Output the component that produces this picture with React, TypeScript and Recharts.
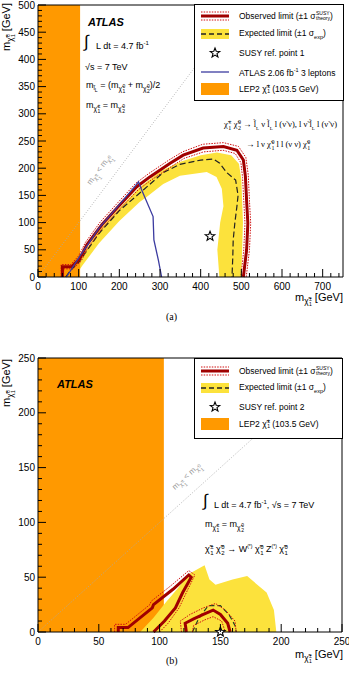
import { ComposedChart, XAxis, YAxis, Line, Area, Scatter } from 'recharts';

// ---------- panel (a) ----------
const aOrange = [[0, 500], [103.5, 500]];
const aObserved = [[60, 0], [60, 19], [83, 19], [103, 34], [120, 59], [157, 96], [197, 129], [243, 166], [275, 184], [325, 209], [357, 224], [406, 237], [456, 240], [489, 233], [505, 215], [510, 185], [513, 140], [516, 99], [513, 50], [505, 0]];
const aTheoryUp = [[57, 0], [57, 23], [81, 23], [100, 39], [117, 64], [153, 101], [193, 134], [240, 172], [272, 190], [322, 215], [355, 230], [405, 244], [456, 247], [493, 240], [511, 220], [517, 188], [520, 140], [523, 99], [520, 50], [512, 0]];
const aTheoryDown = [[63, 0], [63, 15], [85, 15], [106, 29], [123, 54], [160, 91], [200, 124], [246, 160], [278, 178], [328, 203], [359, 218], [407, 230], [455, 233], [485, 227], [499, 210], [503, 183], [506, 140], [509, 99], [506, 50], [499, 0]];
const aExpected = [[68, 0], [80, 12], [100, 27], [150, 80], [200, 122], [259, 160], [308, 192], [349, 207], [400, 215], [431, 217], [447, 209], [464, 192], [486, 178], [492, 150], [489, 129], [484, 99], [480, 68], [479, 37], [477, 0]];
const aExpUp = [[64, 0], [72, 10], [100, 30], [150, 86], [200, 127], [250, 165], [300, 194], [350, 212], [400, 224], [440, 229], [475, 224], [494, 208], [500, 180], [502, 140], [504, 100], [502, 50], [500, 0]];
const aExpDown = [[90, 0], [110, 22], [150, 62], [200, 103], [250, 138], [267, 147], [308, 171], [349, 186], [415, 193], [439, 184], [452, 162], [456, 130], [448, 100], [441, 50], [446, 0]];
const aThreeLep = [[70, 0], [100, 35], [150, 90], [200, 133], [240, 168], [247, 175], [255, 160], [283, 111], [285, 68], [296, 31], [304, 0]];
const aDiagonal = [[0, 0], [500, 500]];
const aRefPoint = [[423, 75]];
const aXLabels = [0, 100, 200, 300, 400, 500, 600, 700];
const aYLabels = [0, 50, 100, 150, 200, 250, 300, 350, 400, 450, 500];

// ---------- panel (b) ----------
const bOrange = [[0, 250], [103.5, 250]];
const bExpBand = [[84, 0], [95, 13], [105, 27], [115, 40], [124, 53], [137, 61], [141, 48], [146, 43], [160, 48], [172, 51], [188, 36], [194, 20], [196, 0]];
const bObsLoop = [[66, 0], [66, 4], [74, 4], [94, 22], [95, 25], [111, 39], [124, 52], [126, 50], [119, 36], [113, 22], [104, 10], [95, 0]];
const bObsDome = [[122, 0], [121, 8], [128, 12], [136, 16], [144, 20], [150, 16], [156, 8], [158, 0]];
const bTheoryLoop = [[63, 0], [63, 7], [72, 7], [92, 25], [93, 28], [109, 42], [124, 56], [129, 52], [122, 36], [116, 22], [107, 8], [100, 0]];
const bTheoryDomeUp = [[118, 0], [117, 10], [125, 16], [136, 22], [146, 26], [154, 20], [162, 10], [163, 0]];
const bTheoryDomeDown = [[127, 0], [128, 6], [137, 11], [144, 14], [151, 10], [154, 0]];
const bExpected = [[127, 0], [132, 12], [140, 24], [150, 24], [157, 16], [162, 6], [163, 0]];
const bDiagonal = [[0, 0], [250, 250]];
const bRefPoint = [[150, 0]];
const bXLabels = [0, 50, 100, 150, 200, 250];
const bYLabels = [0, 50, 100, 150, 200, 250];

const FONT = '"Liberation Sans", Arial, sans-serif';
const SERIF = '"Liberation Serif", "Times New Roman", serif';
const ORANGE = '#FF9900';
const YELLOW = '#FCE23C';
const DARKRED = '#A00000';
const RED = '#D01010';
const BLUE = '#3B3BA0';
const CHI = '\u03C7\u0303';

const pts = (a: number[][]) => a.map(([x, y]) => ({ x, y }));
const steps = (from: number, to: number, step: number) => {
  const out: number[] = [];
  for (let v = from; v <= to; v += step) out.push(v);
  return out;
};

type Side = 'bottom' | 'top' | 'left' | 'right';

function tickFor(side: Side, labels: number[]) {
  return (p: any) => {
    const { x, y, payload } = p;
    const v = payload.value as number;
    const major = labels.includes(v);
    const len = major ? 8 : 4;
    const s = { stroke: '#000', strokeWidth: 1 };
    if (side === 'bottom')
      return (
        <g>
          <line x1={x} x2={x} y1={y} y2={y - len} {...s} />
          {major && (
            <text x={x} y={y + 13} textAnchor="middle" fontSize={10} fontFamily={FONT} fill="#000">
              {v}
            </text>
          )}
        </g>
      );
    if (side === 'top') return <line x1={x} x2={x} y1={y} y2={y + len} {...s} />;
    if (side === 'right') return <line x1={x} x2={x - len} y1={y} y2={y} {...s} />;
    return (
      <g>
        <line x1={x} x2={x + len} y1={y} y2={y} {...s} />
        {major && (
          <text x={x - 3} y={y + 3.5} textAnchor="end" fontSize={10} fontFamily={FONT} fill="#000">
            {v}
          </text>
        )}
      </g>
    );
  };
}

function StarShape(props: any) {
  const { cx, cy } = props;
  const d =
    Array.from({ length: 10 }, (_, i) => {
      const a = -Math.PI / 2 + (i * Math.PI) / 5;
      const r = i % 2 === 0 ? 5 : 2.1;
      return `${i === 0 ? 'M' : 'L'}${cx + r * Math.cos(a)},${cy + r * Math.sin(a)}`;
    }).join('') + 'Z';
  return <path d={d} fill="#fff" stroke="#000" strokeWidth={1.1} />;
}

function SupSub({ sup, sub, size = 6 }: { sup?: string; sub?: string; size?: number }) {
  return (
    <span
      style={{
        display: 'inline-flex',
        flexDirection: 'column',
        verticalAlign: 'middle',
        fontSize: size,
        lineHeight: 1,
        marginLeft: 0.5,
      }}
    >
      <span>{sup ?? '\u00a0'}</span>
      <span>{sub ?? '\u00a0'}</span>
    </span>
  );
}

function Chi({ sup, sub, size = 6 }: { sup: string; sub: string; size?: number }) {
  return (
    <>
      {CHI}
      <SupSub sup={sup} sub={sub} size={size} />
    </>
  );
}

function MChi({ sup, sub }: { sup: string; sub: string }) {
  return (
    <>
      m
      <span style={{ fontSize: '0.75em', verticalAlign: '-0.4em' }}>
        <Chi sup={sup} sub={sub} size={5} />
      </span>
    </>
  );
}

function Text({ left, top, size = 9, children, style }: any) {
  return (
    <div
      style={{
        position: 'absolute',
        left,
        top,
        fontSize: size,
        fontFamily: FONT,
        whiteSpace: 'nowrap',
        lineHeight: 1,
        color: '#000',
        ...style,
      }}
    >
      {children}
    </div>
  );
}

function Swatch({ kind }: { kind: string }) {
  return (
    <svg width={30} height={14} style={{ display: 'block' }}>
      {kind === 'obs' && (
        <>
          <line x1={1} x2={29} y1={3} y2={3} stroke={RED} strokeDasharray="1.5 1.2" />
          <line x1={1} x2={29} y1={7} y2={7} stroke={DARKRED} strokeWidth={3} />
          <line x1={1} x2={29} y1={11} y2={11} stroke={RED} strokeDasharray="1.5 1.2" />
        </>
      )}
      {kind === 'exp' && (
        <>
          <rect x={1} y={2} width={28} height={10} fill={YELLOW} />
          <line x1={1} x2={29} y1={7} y2={7} stroke="#222" strokeWidth={1.3} strokeDasharray="5 3" />
        </>
      )}
      {kind === 'star' && <StarShape cx={15} cy={7} />}
      {kind === 'blue' && <line x1={1} x2={29} y1={7} y2={7} stroke={BLUE} strokeWidth={1.3} />}
      {kind === 'lep' && <rect x={1} y={1} width={28} height={12} fill={ORANGE} />}
    </svg>
  );
}

function LegendBox({ left, top, width, height, rows }: any) {
  return (
    <div
      style={{
        position: 'absolute',
        left,
        top,
        width,
        height,
        boxSizing: 'border-box',
        border: '1px solid #000',
        background: '#fff',
        fontFamily: FONT,
        fontSize: 8.5,
      }}
    >
      {rows.map((r: any, i: number) => (
        <div
          key={i}
          style={{ position: 'absolute', left: 5, top: r.y - top - 7, display: 'flex', alignItems: 'center', whiteSpace: 'nowrap' }}
        >
          <Swatch kind={r.kind} />
          <span style={{ marginLeft: 9 }}>{r.label}</span>
        </div>
      ))}
    </div>
  );
}

const sigmaTheory = (
  <>
    Observed limit (±1 σ<SupSub sup="SUSY" sub="theory" size={5} />)
  </>
);
const sigmaExp = (
  <>
    Expected limit (±1 σ<sub style={{ fontSize: 5.5 }}>exp</sub>)
  </>
);
const lepLabel = (
  <>
    LEP2 <Chi sup="±" sub="1" size={5} /> (103.5 GeV)
  </>
);

function Frame({ xDomain, yDomain, xTicks, yTicks, xLabels, yLabels }: any) {
  const common = { type: 'number' as const, interval: 0 as const, tickSize: 0, tickMargin: 0, tickLine: false, axisLine: { stroke: '#000' } };
  return [
    <XAxis key="xb" dataKey="x" domain={xDomain} ticks={xTicks} height={1} tick={tickFor('bottom', xLabels)} {...common} />,
    <XAxis key="xt" xAxisId="t" orientation="top" dataKey="x" domain={xDomain} ticks={xTicks} height={1} tick={tickFor('top', xLabels)} {...common} />,
    <YAxis key="yl" domain={yDomain} ticks={yTicks} width={1} tick={tickFor('left', yLabels)} {...common} />,
    <YAxis key="yr" yAxisId="r" orientation="right" domain={yDomain} ticks={yTicks} width={1} tick={tickFor('right', yLabels)} {...common} />,
  ];
}

const dotted = { stroke: RED, strokeWidth: 1, strokeDasharray: '1.5 1.2', dot: false, isAnimationActive: false, type: 'linear' as const };

function PanelA() {
  return (
    <div style={{ position: 'absolute', left: 0, top: 0, width: 349, height: 310 }}>
      <ComposedChart width={349} height={310} margin={{ top: 4, right: 5, bottom: 32, left: 37 }}>
        {Frame({ xDomain: [0, 750], yDomain: [0, 500], xTicks: steps(0, 740, 20), yTicks: steps(0, 500, 10), xLabels: aXLabels, yLabels: aYLabels })}
        <Area data={pts(aExpUp)} dataKey="y" type="linear" baseValue={0} fill={YELLOW} fillOpacity={1} stroke="none" isAnimationActive={false} />
        <Area data={pts(aExpDown)} dataKey="y" type="linear" baseValue={0} fill="#fff" fillOpacity={1} stroke="none" isAnimationActive={false} />
        <Area data={pts(aOrange)} dataKey="y" type="linear" baseValue={0} fill={ORANGE} fillOpacity={1} stroke="none" isAnimationActive={false} />
        <Line data={pts(aDiagonal)} dataKey="y" type="linear" stroke="#aaa" strokeWidth={0.8} strokeDasharray="1 1.5" dot={false} isAnimationActive={false} />
        <Line data={pts(aExpected)} dataKey="y" type="linear" stroke="#222" strokeWidth={1.2} strokeDasharray="6 3" dot={false} isAnimationActive={false} />
        <Line data={pts(aTheoryUp)} dataKey="y" {...dotted} />
        <Line data={pts(aTheoryDown)} dataKey="y" {...dotted} />
        <Line data={pts(aObserved)} dataKey="y" type="linear" stroke={DARKRED} strokeWidth={3} dot={false} isAnimationActive={false} />
        <Line data={pts(aThreeLep)} dataKey="y" type="linear" stroke={BLUE} strokeWidth={1.3} dot={false} isAnimationActive={false} />
        <Scatter data={pts(aRefPoint)} dataKey="y" shape={<StarShape />} isAnimationActive={false} />
      </ComposedChart>
    </div>
  );
}

function PanelB() {
  return (
    <div style={{ position: 'absolute', left: 0, top: 330, width: 349, height: 345 }}>
      <ComposedChart width={349} height={345} margin={{ top: 27, right: 6, bottom: 42, left: 37 }}>
        {Frame({ xDomain: [0, 250], yDomain: [0, 250], xTicks: steps(0, 250, 10), yTicks: steps(0, 250, 10), xLabels: bXLabels, yLabels: bYLabels })}
        <Area data={pts(bOrange)} dataKey="y" type="linear" baseValue={0} fill={ORANGE} fillOpacity={1} stroke="none" isAnimationActive={false} />
        <Area data={pts(bExpBand)} dataKey="y" type="linear" baseValue={0} fill={YELLOW} fillOpacity={1} stroke="none" isAnimationActive={false} />
        <Line data={pts(bDiagonal)} dataKey="y" type="linear" stroke="#aaa" strokeWidth={0.8} strokeDasharray="1 1.5" dot={false} isAnimationActive={false} />
        <Line data={pts(bExpected)} dataKey="y" type="linear" stroke="#224422" strokeWidth={1.2} strokeDasharray="5 3" dot={false} isAnimationActive={false} />
        <Line data={pts(bTheoryLoop)} dataKey="y" {...dotted} />
        <Line data={pts(bTheoryDomeUp)} dataKey="y" {...dotted} />
        <Line data={pts(bTheoryDomeDown)} dataKey="y" {...dotted} />
        <Line data={pts(bObsLoop)} dataKey="y" type="linear" stroke={DARKRED} strokeWidth={3} dot={false} isAnimationActive={false} />
        <Line data={pts(bObsDome)} dataKey="y" type="linear" stroke={DARKRED} strokeWidth={3} dot={false} isAnimationActive={false} />
        <Scatter data={pts(bRefPoint)} dataKey="y" shape={<StarShape />} isAnimationActive={false} />
      </ComposedChart>
    </div>
  );
}

function YTitle({ top }: { top: number }) {
  return (
    <div
      style={{
        position: 'absolute',
        left: 9,
        top,
        transform: 'translate(-50%, -50%) rotate(-90deg)',
        fontFamily: FONT,
        fontSize: 11,
        whiteSpace: 'nowrap',
        lineHeight: 1,
      }}
    >
      <MChi sup="0" sub="1" /> [GeV]
    </div>
  );
}

function XTitle({ top }: { top: number }) {
  return (
    <div style={{ position: 'absolute', right: 6, top, fontFamily: FONT, fontSize: 11, whiteSpace: 'nowrap', lineHeight: 1 }}>
      <MChi sup="±" sub="1" /> [GeV]
    </div>
  );
}

function DiagLabel({ cx, cy, angle }: { cx: number; cy: number; angle: number }) {
  return (
    <div
      style={{
        position: 'absolute',
        left: cx,
        top: cy,
        transform: `translate(-50%, -50%) rotate(${angle}deg)`,
        fontFamily: FONT,
        fontSize: 8,
        color: '#999',
        whiteSpace: 'nowrap',
        lineHeight: 1,
      }}
    >
      <MChi sup="±" sub="1" /> &lt; <MChi sup="0" sub="1" />
    </div>
  );
}

export default function App() {
  return (
    <div style={{ position: 'absolute', left: 0, top: 0, width: 349, height: 675, background: '#fff', overflow: 'hidden' }}>
      <PanelA />
      <PanelB />

      {/* panel (a) annotations */}
      <Text left={88} top={17} size={11} style={{ fontWeight: 'bold', fontStyle: 'italic' }}>ATLAS</Text>
      <Text left={84} top={33} size={17}>∫</Text>
      <Text left={96} top={40} size={9}>L dt = 4.7 fb<sup style={{ fontSize: 6 }}>-1</sup></Text>
      <Text left={85} top={63} size={9}>√s = 7 TeV</Text>
      <Text left={86} top={81} size={9}>
        m<span style={{ fontSize: 6, verticalAlign: '-0.4em' }}>l̃<sub>L</sub></span> = (<MChi sup="0" sub="1" /> + <MChi sup="0" sub="2" />)/2
      </Text>
      <Text left={86} top={101} size={9}>
        <MChi sup="±" sub="1" /> = <MChi sup="0" sub="2" />
      </Text>
      <Text left={224} top={119} size={8.5} style={{ fontFamily: SERIF }}>
        <Chi sup="±" sub="1" /> <Chi sup="0" sub="2" /> → l̃<sub style={{ fontSize: 5 }}>L</sub> ν l̃<sub style={{ fontSize: 5 }}>L</sub> l (ν̃ ν), l ν̃ l̃<sub style={{ fontSize: 5 }}>L</sub> l (ν̃ ν)
      </Text>
      <Text left={246} top={139} size={8.5} style={{ fontFamily: SERIF }}>
        → l ν <Chi sup="0" sub="1" /> l l (ν ν) <Chi sup="0" sub="1" />
      </Text>
      <DiagLabel cx={101} cy={171} angle={-53} />
      <LegendBox
        left={194}
        top={4}
        width={150}
        height={97}
        rows={[
          { y: 15, kind: 'obs', label: sigmaTheory },
          { y: 33, kind: 'exp', label: sigmaExp },
          { y: 52, kind: 'star', label: 'SUSY ref. point 1' },
          { y: 71, kind: 'blue', label: <>ATLAS 2.06 fb<sup style={{ fontSize: 5.5 }}>-1</sup> 3 leptons</> },
          { y: 88, kind: 'lep', label: lepLabel },
        ]}
      />
      <YTitle top={27} />
      <XTitle top={292} />
      <Text left={166} top={312} size={10} style={{ fontFamily: SERIF }}>(a)</Text>

      {/* panel (b) annotations */}
      <Text left={57} top={379} size={11} style={{ fontWeight: 'bold', fontStyle: 'italic' }}>ATLAS</Text>
      <Text left={203} top={492} size={17}>∫</Text>
      <Text left={214} top={499} size={9}>
        L dt = 4.7 fb<sup style={{ fontSize: 6 }}>-1</sup>, √s = 7 TeV
      </Text>
      <Text left={205} top={520} size={9}>
        <MChi sup="±" sub="1" /> = <MChi sup="0" sub="2" />
      </Text>
      <Text left={205} top={544} size={9}>
        <Chi sup="±" sub="1" /> <Chi sup="0" sub="2" /> → W<sup style={{ fontSize: 5 }}>(*)</sup> <Chi sup="0" sub="1" /> Z<sup style={{ fontSize: 5 }}>(*)</sup> <Chi sup="0" sub="1" />
      </Text>
      <DiagLabel cx={188} cy={478} angle={-42} />
      <LegendBox
        left={194}
        top={358}
        width={149}
        height={81}
        rows={[
          { y: 370, kind: 'obs', label: sigmaTheory },
          { y: 387, kind: 'exp', label: sigmaExp },
          { y: 406, kind: 'star', label: 'SUSY ref. point 2' },
          { y: 423, kind: 'lep', label: lepLabel },
        ]}
      />
      <YTitle top={383} />
      <XTitle top={649} />
      <Text left={166} top={656} size={10} style={{ fontFamily: SERIF }}>(b)</Text>
    </div>
  );
}
